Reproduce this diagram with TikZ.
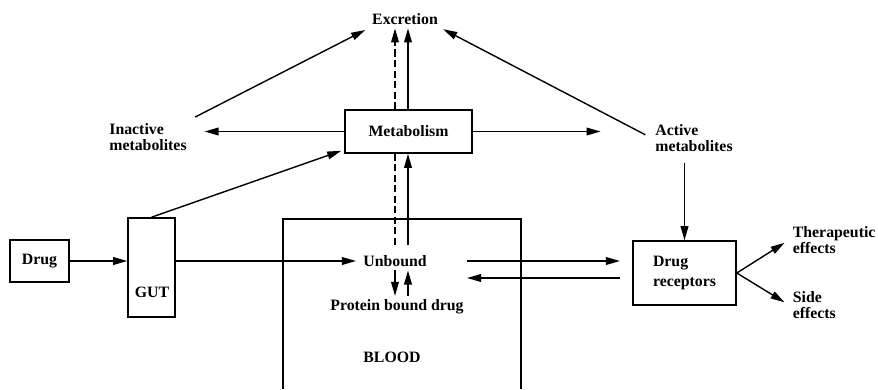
\documentclass[tikz,border=0pt]{standalone}
\usepackage{fontspec}
\setmainfont{Liberation Serif}
\usetikzlibrary{arrows.meta,calc}
\begin{document}
\begin{tikzpicture}[x=0.02cm,y=-0.02cm,
    box/.style={draw,line width=0.9pt,fill=white},
    txt/.style={font=\fontsize{9}{9.3}\selectfont\bfseries,inner sep=2pt},
    arr/.style={-{Triangle[length=8pt,width=4.4pt]},line width=0.8pt},
    dsh/.style={dash pattern=on 4pt off 2pt,line width=0.8pt}]
    \useasboundingbox (0,0) rectangle (878,389);
    \draw[line width=0.9pt] (283,389) |- (521,219) -- (521,389) ;
    \node[box,txt,minimum width=1.18cm,minimum height=0.84cm] (drug) at (39.5,261) {Drug} ;
    \node[box,minimum width=0.94cm,minimum height=1.98cm] (gut) at (151.5,267.5) {} ;
    \node[txt] (gutlbl) at (152,292) {GUT} ;
    \node[box,txt,minimum width=2.54cm,minimum height=0.86cm] (metab) at (408.5,131.5) {Metabolism} ;
    \node[txt] (excr) at (405,19) {Excretion} ;
    \node[txt,align=left,anchor=west] (inact) at (105.5,137) {Inactive\\metabolites} ;
    \node[txt,align=left,anchor=west] (act) at (651.5,138) {Active\\metabolites} ;
    \node[txt] (unbound) at (395,261) {Unbound} ;
    \node[txt] (protein) at (397,307) {Protein bound drug} ;
    \node[txt] (blood) at (392,357) {BLOOD} ;
    \node[box,txt,align=left,minimum width=2.06cm,minimum height=1.28cm] (recep) at (684.5,273) {Drug\\[2pt]receptors} ;
    \node[txt,align=left,anchor=west] (ther) at (789,240) {Therapeutic\\effects} ;
    \node[txt,align=left,anchor=west] (side) at (789,305) {Side\\effects} ;
    \coordinate (dsh) at (395,245) ;
    \coordinate (sol) at (408,245) ;
    \coordinate (b1) at (467,261) ;
    \coordinate (b2) at (467,278) ;
    \draw[arr] (drug.east) -- (drug.east -| gut.west) ;
    \draw[arr,shorten >=2pt] (gut.east |- unbound) -- (unbound.west) ;
    \draw[arr] (gut.north) -- ($(metab.south west)+(-3,-3)$) ;
    \draw[arr,shorten >=8pt] (metab.west) -- (inact.east |- metab.west) ;
    \draw[arr,shorten >=29pt] (metab.east) -- (act.west |- metab.east) ;
    \draw[arr,shorten <=3pt,shorten >=2pt] (inact.north east) -- (excr.south west) ;
    \draw[arr,shorten <=4pt,shorten >=1pt] (act.west) -- (excr.south east) ;
    \draw[arr,shorten <=4pt] (act.south -| recep.north) -- (recep.north) ;
    \draw[arr,shorten >=3pt] (recep.east) -- (ther.west) ;
    \draw[arr,shorten >=3pt] (recep.east) -- (side.west) ;
    \draw[arr,shorten >=7pt] (b1) -- (b1 -| recep.west) ;
    \draw[arr,shorten <=7pt] (b2 -| recep.west) -- (b2) ;
    \draw[dsh] (dsh) -- (dsh |- metab.south) ;
    \draw[dsh,arr] (dsh |- metab.north) -- (dsh |- excr.south) ;
    \draw[arr] (sol) -- (sol |- metab.south) ;
    \draw[arr] (sol |- metab.north) -- (sol |- excr.south) ;
    \draw[arr] (dsh |- unbound.south) -- (dsh |- protein.north) ;
    \draw[arr] (sol |- protein.north) -- (sol |- unbound.south) ;
\end{tikzpicture}
\end{document}
